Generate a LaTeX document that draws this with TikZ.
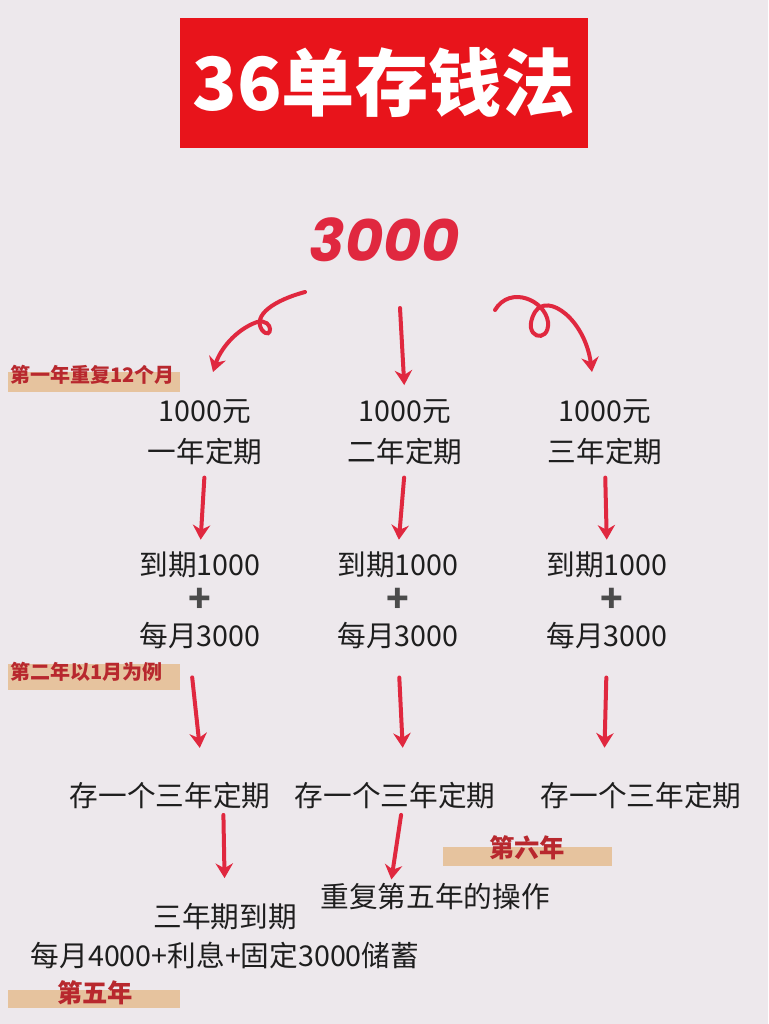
\documentclass[tikz,border=0pt]{standalone}
\usepackage{fontspec}
\newfontfamily\cjk{Noto Sans CJK SC}
\newfontfamily\numfont{Poppins}
\usetikzlibrary{arrows.meta}
\definecolor{bgcol}{HTML}{EDE8EC}
\definecolor{titlered}{HTML}{E8141B}
\definecolor{arrowred}{HTML}{E0283F}
\definecolor{labelred}{HTML}{B8282E}
\definecolor{barcol}{HTML}{E6C39E}
\definecolor{txt}{HTML}{1E1E1E}
\begin{document}
\begin{tikzpicture}
      [x=0.75pt,y=-0.75pt,
      body/.style={font=\cjk\fontsize{21.5}{24}\selectfont,text=txt,inner sep=1pt},
      tag/.style={font=\cjk\bfseries\fontsize{15}{17}\selectfont,text=labelred,inner sep=0pt},
      bar/.style={fill=barcol,draw=none},
      redarrow/.style={draw=arrowred,line width=3pt,line cap=round,-{Stealth[length=11pt,width=13pt]}},
      ]%%%%%%%%%%%%%%%%%%%%%%%%%%%%%%
      \fill[bgcol] (0,0) rectangle (768,1024);
      \useasboundingbox (0,0) rectangle (768,1024);

      % title
      \node[fill=titlered,minimum width=306pt,minimum height=97pt,text=white,
            font=\cjk\bfseries\fontsize{55}{60}\selectfont] (title) at (384,83) {36单存钱法};
      \node[text=arrowred,font=\numfont\bfseries\itshape\fontsize{44}{50}\selectfont] (total) at (385,240) {3000};

      % tags
      \fill[bar] (8,372) rectangle (180,392);
      \node[tag,anchor=west] (tagA) at (10,375) {第一年重复12个月};
      \fill[bar] (8,664) rectangle (180,690);
      \node[tag,anchor=west] (tagB) at (10,672) {第二年以1月为例};
      \fill[bar] (443,847) rectangle (612,866);
      \node[tag,font=\cjk\bfseries\fontsize{19}{21}\selectfont] (tagF) at (527,848) {第六年};
      \fill[bar] (8,990) rectangle (180,1008);
      \node[tag,font=\cjk\bfseries\fontsize{19}{21}\selectfont] (tagE) at (95,993) {第五年};

      % columns
      \node[body] (a1) at (205,412) {1000元};
      \node[body] (a2) at (205,452) {一年定期};
      \node[body] (b1) at (405,412) {1000元};
      \node[body] (b2) at (405,452) {二年定期};
      \node[body] (c1) at (605,412) {1000元};
      \node[body] (c2) at (605,452) {三年定期};

      \node[body] (a3) at (200,565) {到期1000};
      \node[body,font=\cjk\bfseries\fontsize{28}{30}\selectfont,text=txt!80] (a4) at (200,600) {+};
      \node[body] (a5) at (200,636) {每月3000};
      \node[body] (b3) at (398,565) {到期1000};
      \node[body,font=\cjk\bfseries\fontsize{28}{30}\selectfont,text=txt!80] (b4) at (398,600) {+};
      \node[body] (b5) at (398,636) {每月3000};
      \node[body] (c3) at (607,565) {到期1000};
      \node[body,font=\cjk\bfseries\fontsize{28}{30}\selectfont,text=txt!80] (c4) at (612,600) {+};
      \node[body] (c5) at (607,636) {每月3000};

      \node[body] (a6) at (170,796) {存一个三年定期};
      \node[body] (b6) at (395,796) {存一个三年定期};
      \node[body] (c6) at (641,796) {存一个三年定期};

      \node[body] (a7) at (225,917) {三年期到期};
      \node[body] (a8) at (225,955) {每月4000+利息+固定3000储蓄};
      \node[body] (b7) at (435,897) {重复第五年的操作};

      % arrows
      \coordinate (la) at (305,292);
      \coordinate (le) at (213,372);
      \coordinate (ra) at (495,310);
      \coordinate (re) at (592,372);
      \coordinate (mt) at (400,308);
      \draw[redarrow] (la) .. controls (275,300) and (252,315) .. (262,330)
            .. controls (272,342) and (275,318) .. (257,322)
            .. controls (235,330) and (220,350) .. (le);
      \draw[redarrow] (ra) .. controls (510,285) and (545,300) .. (548,322)
            .. controls (550,345) and (520,338) .. (535,312)
            .. controls (548,292) and (585,320) .. (re);
      \draw[redarrow,shorten >=10pt] (mt) -- (b1.north);
      \draw[redarrow,shorten <=8pt,shorten >=8pt] (a2.south) -- (a3.north);
      \draw[redarrow,shorten <=8pt,shorten >=8pt] (b2.south) -- (b3.north);
      \draw[redarrow,shorten <=8pt,shorten >=8pt] (c2.south) -- (c3.north);
      \draw[redarrow,shorten <=20pt,shorten >=25pt] ([xshift=-8]a5.south) -- ([xshift=25]a6.north);
      \draw[redarrow,shorten <=20pt,shorten >=25pt] (b5.south) -- ([xshift=7]b6.north);
      \draw[redarrow,shorten <=20pt,shorten >=25pt] (c5.south) -- ([xshift=-28]c6.north);
      \draw[redarrow,shorten <=3pt,shorten >=18pt] ([xshift=40]a6.south) -- (a7.north);
      \draw[redarrow,shorten <=3pt,shorten >=2pt] ([xshift=5]b6.south) -- ([xshift=-33]b7.north);
\end{tikzpicture}
\end{document}
